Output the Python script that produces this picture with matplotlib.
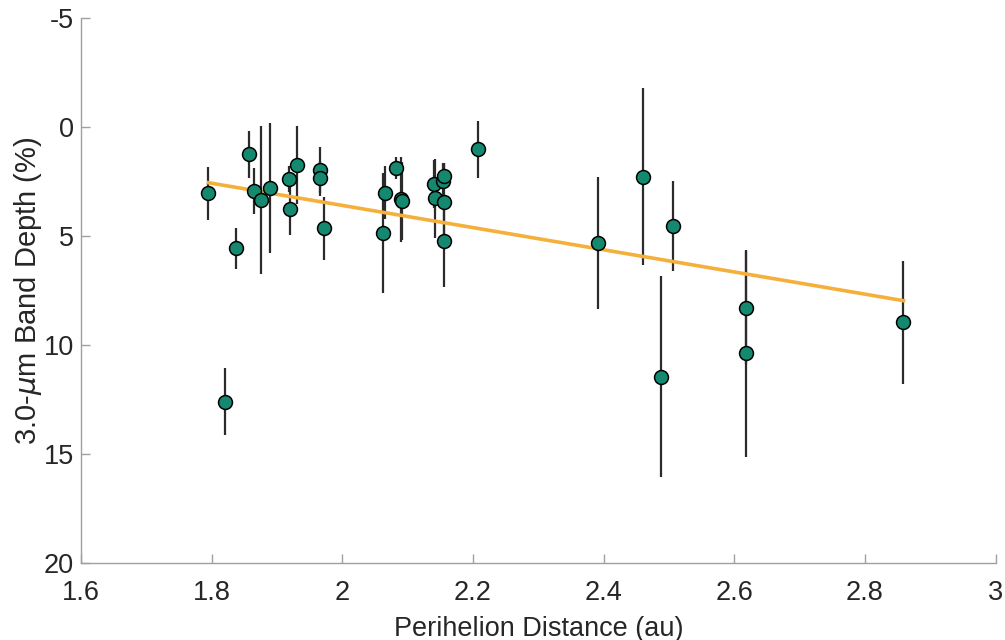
import matplotlib.pyplot as plt
import numpy as np

plt.rcParams['font.family'] = ['Liberation Sans', 'DejaVu Sans']
plt.rcParams['axes.unicode_minus'] = False

# perihelion distance (au), band depth (%) and 1-sigma error
q = [1.795, 1.821, 1.837, 1.857, 1.865, 1.875, 1.890, 1.918, 1.920, 1.931,
     1.966, 1.966, 1.972, 2.063, 2.065, 2.082, 2.090, 2.092, 2.141, 2.142,
     2.154, 2.156, 2.156, 2.156, 2.207, 2.391, 2.460, 2.488, 2.506, 2.618,
     2.618, 2.858]
depth = [3.04, 12.59, 5.56, 1.25, 2.93, 3.34, 2.79, 2.40, 3.77, 1.74,
         1.97, 2.35, 4.64, 4.87, 3.01, 1.86, 3.30, 3.40, 2.61, 3.27,
         2.46, 2.24, 3.42, 5.21, 1.02, 5.30, 2.28, 11.45, 4.52, 8.28,
         10.37, 8.95]
err = [1.22, 1.53, 0.95, 1.08, 1.07, 3.40, 2.97, 0.60, 1.18, 1.80,
       1.07, 0.80, 1.44, 2.75, 1.22, 0.50, 1.95, 1.80, 1.10, 1.80,
       0.80, 0.60, 1.76, 2.10, 1.30, 3.03, 4.05, 4.60, 2.06, 2.60,
       4.74, 2.83]

# linear trend
fit_q = [1.795, 2.859]
fit_depth = [2.55, 7.96]

fig = plt.figure(figsize=(10.05, 6.4), dpi=100)
ax = fig.add_axes([0.0806, 0.1198, 0.9101, 0.8521])

ax.errorbar(q, depth, yerr=err, fmt='none', ecolor='#2b2b2b', elinewidth=1.6,
            capsize=0, zorder=2)
ax.plot(fit_q, fit_depth, color='#f5b03c', linewidth=2.6, zorder=3)
ax.plot(q, depth, 'o', markersize=10, markerfacecolor='#14896f',
        markeredgecolor='black', markeredgewidth=1.1, zorder=4)

ax.set_xlim(1.6, 3.0)
ax.set_ylim(20, -5)
ax.set_xticks(np.arange(1.6, 3.01, 0.2))
ax.set_xticklabels(['1.6', '1.8', '2', '2.2', '2.4', '2.6', '2.8', '3'])
ax.set_yticks([-5, 0, 5, 10, 15, 20])
ax.set_yticklabels(['-5', '0', '5', '10', '15', '20'])

for side in ['top', 'right']:
    ax.spines[side].set_visible(False)
for side in ['left', 'bottom']:
    ax.spines[side].set_color('#a0a0a0')
    ax.spines[side].set_linewidth(1.0)
ax.tick_params(direction='in', length=6.5, width=1.0, color='#a0a0a0',
               labelcolor='#262626', labelsize=19.5)
ax.tick_params(axis='x', pad=12)
ax.tick_params(axis='y', pad=5)

ax.set_xlabel('Perihelion Distance (au)', fontsize=19.5, color='#262626', labelpad=7)
ax.set_ylabel('3.0-$\\mu$m Band Depth (%)', fontsize=21, color='#262626', labelpad=0)

fig.savefig('out.png', dpi=100)
